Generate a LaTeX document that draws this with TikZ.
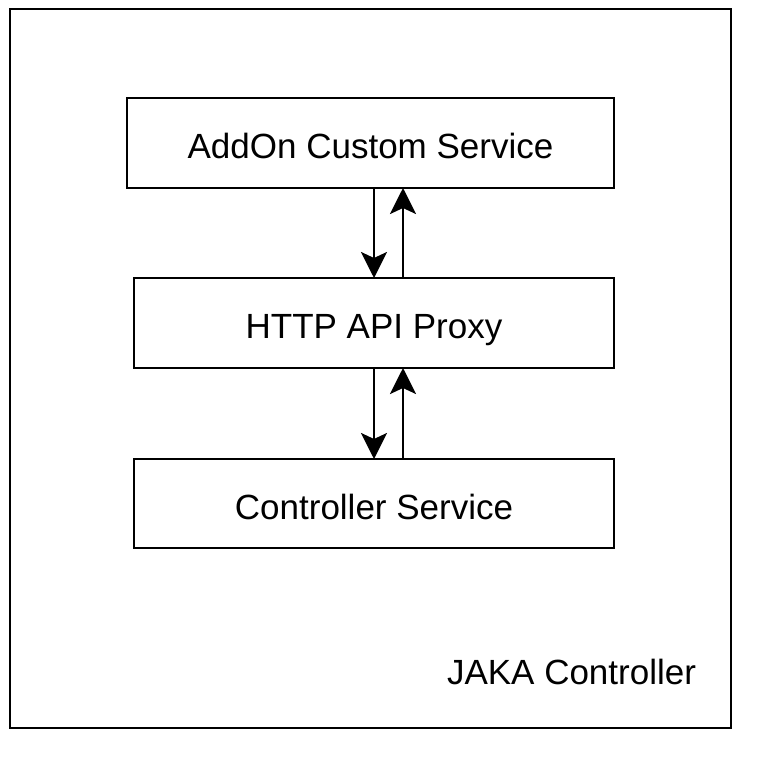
\documentclass[tikz,border=0pt]{standalone}
\usepackage{fontspec}
\setmainfont{Liberation Sans}
\usetikzlibrary{arrows.meta}

\begin{document}
\begin{tikzpicture}[x=1pt, y=-1pt, line width=2.7pt, >={Stealth[length=26pt, width=26pt, inset=6pt]},
		every node/.style={inner sep=0pt, outer sep=0pt, font=\fontsize{35}{42}\selectfont},
		svcbox/.style={draw, rectangle, minimum width=480pt, minimum height=90pt, text height=31pt, text depth=0pt}]
					\useasboundingbox (0,0) rectangle (771,771);

					\node[draw, rectangle, minimum width=721pt, minimum height=719pt] (jaka) at (370.5,368.5) {};
					\node[anchor=base east] (jakalbl) at (696,684) {JAKA Controller};

					\node[svcbox, minimum width=487pt] (addon) at (370.5,143) {AddOn Custom Service};
					\node[svcbox] (proxy) at (374,323) {HTTP API Proxy};
					\node[svcbox, minimum height=89pt] (ctrlsvc) at (374,503.5) {Controller Service};

					\coordinate (dn) at (374,0);
					\coordinate (up) at (403,0);
					\foreach \a/\b in {addon/proxy, proxy/ctrlsvc} {
						\draw[->] (\a.south -| dn) -- (\b.north -| dn);
						\draw[->] (\b.north -| up) -- (\a.south -| up);
					}
				\end{tikzpicture}
\end{document}
